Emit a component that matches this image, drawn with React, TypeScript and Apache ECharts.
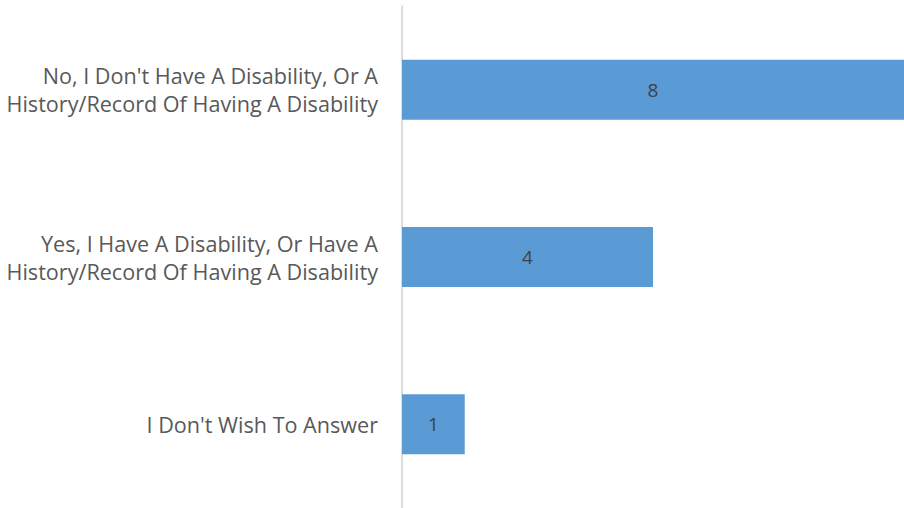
import React, { useEffect, useRef } from "react";
import * as echarts from "echarts";

const categories = [
  "I Don't Wish To Answer",
  "Yes, I Have A Disability, Or Have A\nHistory/Record Of Having A Disability",
  "No, I Don't Have A Disability, Or A\nHistory/Record Of Having A Disability",
];
const counts = [1, 4, 8];

export default function App() {
  const ref = useRef<HTMLDivElement>(null);
  useEffect(() => {
    if (!ref.current) return;
    const chart = echarts.init(ref.current, undefined, { renderer: "svg" });
    chart.setOption({
      animation: false,
      grid: { left: 402, right: -4, top: 6, bottom: -2, containLabel: false },
      xAxis: {
        type: "value",
        min: 0,
        max: 8,
        show: false,
      },
      yAxis: {
        type: "category",
        data: categories,
        axisLine: { show: true, lineStyle: { color: "#d0d0d0", width: 1.5 } },
        axisTick: { show: false },
        axisLabel: {
          color: "#595959",
          fontFamily: "Open Sans",
          fontSize: 21.6,
          lineHeight: 28,
          margin: 24,
          align: "right",
        },
      },
      series: [
        {
          type: "bar",
          data: counts,
          barWidth: 60,
          itemStyle: { color: "#5b9bd5" },
          label: {
            show: true,
            position: "inside",
            color: "#404040",
            fontFamily: "Open Sans",
            fontSize: 19,
          },
        },
      ],
    });
    return () => chart.dispose();
  }, []);
  return <div ref={ref} style={{ width: 904, height: 508, position: "absolute", left: 0, top: 0 }} />;
}
